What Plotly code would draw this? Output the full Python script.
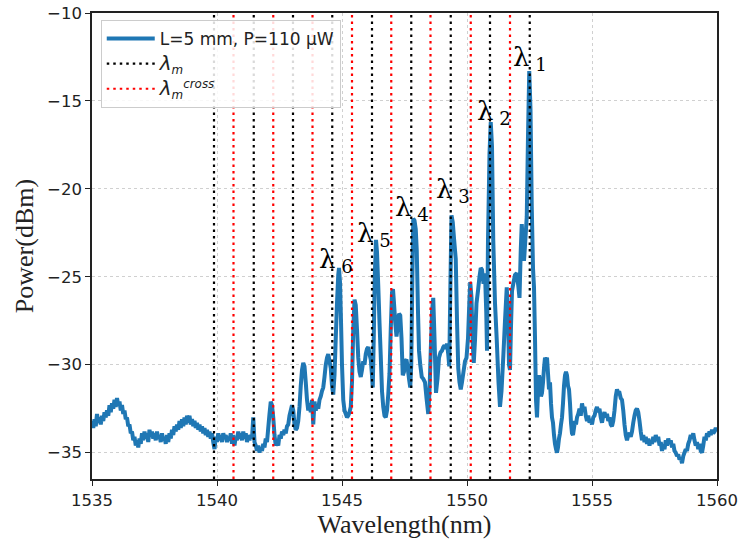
import plotly.graph_objects as go

# Measured optical spectrum (wavelength in nm, power in dBm)
wavelength_nm = [
    1535.00, 1535.05, 1535.10, 1535.15, 1535.20, 1535.25, 1535.30, 1535.35, 1535.40, 1535.45,
    1535.50, 1535.55, 1535.60, 1535.65, 1535.70, 1535.75, 1535.80, 1535.85, 1535.90, 1535.95,
    1536.00, 1536.05, 1536.10, 1536.15, 1536.20, 1536.25, 1536.30, 1536.35, 1536.40, 1536.45,
    1536.50, 1536.55, 1536.60, 1536.65, 1536.70, 1536.75, 1536.80, 1536.85, 1536.90, 1536.95,
    1537.00, 1537.05, 1537.10, 1537.15, 1537.20, 1537.25, 1537.30, 1537.35, 1537.40, 1537.45,
    1537.50, 1537.55, 1537.60, 1537.65, 1537.70, 1537.75, 1537.80, 1537.85, 1537.90, 1537.95,
    1538.00, 1538.05, 1538.10, 1538.15, 1538.20, 1538.25, 1538.30, 1538.35, 1538.40, 1538.45,
    1538.50, 1538.55, 1538.60, 1538.65, 1538.70, 1538.75, 1538.80, 1538.85, 1538.90, 1538.95,
    1539.00, 1539.05, 1539.10, 1539.15, 1539.20, 1539.25, 1539.30, 1539.35, 1539.40, 1539.45,
    1539.50, 1539.55, 1539.60, 1539.65, 1539.70, 1539.75, 1539.80, 1539.85, 1539.90, 1539.95,
    1540.00, 1540.05, 1540.10, 1540.15, 1540.20, 1540.25, 1540.30, 1540.35, 1540.40, 1540.45,
    1540.50, 1540.55, 1540.60, 1540.65, 1540.70, 1540.75, 1540.80, 1540.85, 1540.90, 1540.95,
    1541.00, 1541.05, 1541.10, 1541.15, 1541.20, 1541.25, 1541.30, 1541.35, 1541.40, 1541.45,
    1541.50, 1541.55, 1541.60, 1541.65, 1541.70, 1541.75, 1541.80, 1541.85, 1541.90, 1541.95,
    1542.00, 1542.05, 1542.10, 1542.15, 1542.20, 1542.25, 1542.30, 1542.35, 1542.40, 1542.45,
    1542.50, 1542.55, 1542.60, 1542.65, 1542.70, 1542.75, 1542.80, 1542.85, 1542.90, 1542.95,
    1543.00, 1543.05, 1543.10, 1543.15, 1543.20, 1543.25, 1543.30, 1543.35, 1543.40, 1543.45,
    1543.50, 1543.55, 1543.60, 1543.65, 1543.70, 1543.75, 1543.80, 1543.85, 1543.90, 1543.95,
    1544.00, 1544.05, 1544.10, 1544.15, 1544.20, 1544.25, 1544.30, 1544.35, 1544.40, 1544.45,
    1544.50, 1544.55, 1544.60, 1544.65, 1544.70, 1544.75, 1544.80, 1544.85, 1544.88, 1544.92,
    1544.96, 1545.00, 1545.05, 1545.10, 1545.15, 1545.20, 1545.25, 1545.30, 1545.35, 1545.40,
    1545.45, 1545.50, 1545.55, 1545.60, 1545.65, 1545.70, 1545.75, 1545.80, 1545.85, 1545.90,
    1545.95, 1546.00, 1546.05, 1546.10, 1546.15, 1546.20, 1546.23, 1546.27, 1546.31, 1546.36,
    1546.40, 1546.45, 1546.50, 1546.55, 1546.60, 1546.65, 1546.70, 1546.75, 1546.80, 1546.85,
    1546.90, 1546.95, 1547.00, 1547.04, 1547.08, 1547.13, 1547.18, 1547.23, 1547.28, 1547.33,
    1547.38, 1547.43, 1547.48, 1547.53, 1547.58, 1547.63, 1547.68, 1547.73, 1547.77, 1547.81,
    1547.85, 1547.90, 1547.95, 1547.99, 1548.04, 1548.08, 1548.13, 1548.19, 1548.25, 1548.32,
    1548.38, 1548.45, 1548.50, 1548.55, 1548.60, 1548.65, 1548.70, 1548.76, 1548.82, 1548.88,
    1548.94, 1549.00, 1549.05, 1549.10, 1549.15, 1549.20, 1549.25, 1549.29, 1549.33, 1549.38,
    1549.43, 1549.48, 1549.55, 1549.60, 1549.65, 1549.70, 1549.75, 1549.80, 1549.86, 1549.92,
    1549.98, 1550.04, 1550.09, 1550.13, 1550.18, 1550.22, 1550.27, 1550.32, 1550.38, 1550.44,
    1550.50, 1550.55, 1550.60, 1550.66, 1550.72, 1550.77, 1550.80, 1550.84, 1550.90, 1550.95,
    1551.00, 1551.05, 1551.12, 1551.19, 1551.26, 1551.32, 1551.38, 1551.45, 1551.52, 1551.59,
    1551.64, 1551.68, 1551.72, 1551.76, 1551.80, 1551.85, 1551.92, 1551.99, 1552.05, 1552.10,
    1552.15, 1552.19, 1552.24, 1552.28, 1552.33, 1552.39, 1552.44, 1552.49, 1552.54, 1552.59,
    1552.64, 1552.68, 1552.72, 1552.76, 1552.80, 1552.84, 1552.88, 1552.92, 1552.96, 1553.00,
    1553.04, 1553.08, 1553.12, 1553.16, 1553.20, 1553.24, 1553.28, 1553.32, 1553.36, 1553.40,
    1553.44, 1553.48, 1553.52, 1553.56, 1553.60, 1553.64, 1553.68, 1553.72, 1553.76, 1553.80,
    1553.84, 1553.88, 1553.92, 1553.96, 1554.00, 1554.04, 1554.08, 1554.12, 1554.16, 1554.20,
    1554.24, 1554.28, 1554.32, 1554.36, 1554.40, 1554.45, 1554.50, 1554.55, 1554.60, 1554.65,
    1554.70, 1554.75, 1554.80, 1554.85, 1554.90, 1554.95, 1555.00, 1555.05, 1555.10, 1555.15,
    1555.20, 1555.25, 1555.30, 1555.35, 1555.40, 1555.45, 1555.50, 1555.55, 1555.60, 1555.65,
    1555.70, 1555.75, 1555.80, 1555.85, 1555.90, 1555.95, 1556.00, 1556.05, 1556.10, 1556.15,
    1556.20, 1556.25, 1556.30, 1556.35, 1556.40, 1556.45, 1556.50, 1556.55, 1556.60, 1556.65,
    1556.70, 1556.75, 1556.80, 1556.85, 1556.90, 1556.95, 1557.00, 1557.05, 1557.10, 1557.15,
    1557.20, 1557.25, 1557.30, 1557.35, 1557.40, 1557.45, 1557.50, 1557.55, 1557.60, 1557.65,
    1557.70, 1557.75, 1557.80, 1557.85, 1557.90, 1557.95, 1558.00, 1558.05, 1558.10, 1558.15,
    1558.20, 1558.25, 1558.30, 1558.35, 1558.40, 1558.45, 1558.50, 1558.55, 1558.60, 1558.65,
    1558.70, 1558.75, 1558.80, 1558.85, 1558.90, 1558.95, 1559.00, 1559.05, 1559.10, 1559.15,
    1559.20, 1559.25, 1559.30, 1559.35, 1559.40, 1559.45, 1559.50, 1559.55, 1559.60, 1559.65,
    1559.70, 1559.75, 1559.80, 1559.85, 1559.90, 1559.95, 1560.00,
]

power_dbm = [
    -33.2, -33.6, -33.1, -33.5, -32.8, -33.3, -33.0, -33.4, -32.9, -33.2,
    -32.7, -33.0, -32.6, -32.9, -32.3, -32.7, -32.2, -32.5, -32.0, -32.4,
    -31.9, -32.3, -32.1, -32.6, -32.3, -32.8, -32.6, -33.1, -33.0, -33.5,
    -33.4, -33.9, -33.8, -34.3, -34.1, -34.6, -34.3, -34.7, -34.2, -34.5,
    -33.9, -34.3, -33.8, -34.2, -33.9, -34.4, -33.7, -34.1, -33.8, -34.2,
    -33.9, -34.3, -33.8, -34.2, -34.0, -34.4, -33.9, -34.3, -34.1, -34.5,
    -34.0, -34.4, -33.9, -34.2, -33.7, -34.0, -33.5, -33.8, -33.4, -33.7,
    -33.2, -33.6, -33.1, -33.5, -33.0, -33.4, -32.9, -33.3, -32.9, -33.4,
    -33.1, -33.5, -33.2, -33.6, -33.3, -33.7, -33.4, -33.8, -33.5, -33.9,
    -33.6, -34.0, -33.7, -34.1, -33.8, -34.2, -33.9, -34.4, -34.8, -34.1,
    -34.4, -33.9, -34.3, -34.0, -34.4, -33.9, -34.2, -34.0, -34.4, -34.1,
    -34.3, -33.9, -34.5, -34.0, -34.6, -34.1, -34.3, -33.8, -34.2, -33.9,
    -34.3, -33.8, -34.2, -33.9, -34.4, -34.0, -34.3, -34.0, -34.2, -33.0,
    -34.4, -34.6, -34.9, -34.6, -35.0, -34.7, -34.9, -34.5, -34.7, -34.2,
    -34.4, -33.6, -32.8, -32.1, -32.3, -33.0, -34.0, -34.6, -34.4, -34.6,
    -34.0, -34.2, -33.8, -34.0, -33.7, -33.9, -33.5, -33.4, -32.9, -32.6,
    -32.3, -32.6, -33.4, -33.7, -33.6, -33.2, -32.4, -31.2, -30.3, -29.9,
    -30.1, -31.0, -32.0, -32.6, -32.2, -32.7, -32.0, -33.4, -32.1, -32.6,
    -32.3, -32.5, -32.0, -31.8, -31.5, -31.3, -30.7, -30.0, -29.6, -29.4,
    -29.8, -30.2, -31.2, -31.7, -30.6, -28.5, -26.5, -24.9, -24.5, -25.3,
    -27.5, -30.0, -32.0, -32.6, -32.8, -33.0, -32.9, -32.7, -32.4, -31.0,
    -28.0, -26.3, -26.6, -28.0, -29.6, -30.4, -30.7, -30.3, -29.8, -30.0,
    -29.4, -29.1, -29.0, -29.4, -29.7, -30.6, -31.3, -28.5, -25.0, -22.9,
    -23.6, -25.5, -27.6, -29.5, -31.5, -32.4, -32.9, -33.0, -32.6, -31.7,
    -30.5, -28.0, -25.9, -25.7, -26.5, -27.6, -28.4, -27.8, -27.1, -27.2,
    -28.5, -30.6, -30.4, -29.8, -29.7, -30.2, -30.8, -31.3, -30.0, -25.5,
    -21.7, -21.8, -22.3, -23.5, -27.0, -29.2, -30.0, -30.7, -30.8, -31.0,
    -31.9, -32.8, -31.5, -29.2, -27.0, -26.2, -28.5, -31.6, -30.8, -29.6,
    -29.3, -29.2, -29.0, -28.9, -29.1, -28.8, -29.4, -30.1, -26.0, -21.5,
    -21.9, -22.8, -24.0, -27.5, -30.2, -31.0, -31.4, -31.0, -30.4, -29.8,
    -29.6, -28.5, -26.6, -25.3, -26.2, -28.5, -29.9, -28.6, -26.5, -25.8,
    -25.0, -24.5, -24.6, -25.4, -24.8, -27.0, -29.2, -22.9, -18.0, -16.2,
    -17.6, -22.9, -26.5, -28.6, -31.0, -32.4, -31.5, -29.6, -27.5, -25.6,
    -27.2, -30.0, -30.3, -27.8, -25.8, -25.4, -24.9, -24.8, -25.5, -26.2,
    -23.5, -22.0, -23.2, -24.1, -23.0, -21.6, -17.0, -13.3, -15.5, -21.0,
    -24.5, -25.6, -28.5, -32.0, -33.0, -31.5, -30.6, -30.9, -31.8, -31.6,
    -31.0, -30.2, -29.6, -29.8, -29.6, -30.5, -31.4, -31.0, -32.2, -33.0,
    -33.3, -34.0, -34.5, -34.8, -35.0, -34.7, -34.2, -33.9, -33.4, -33.0,
    -32.2, -31.2, -30.6, -30.4, -30.6, -31.2, -31.4, -32.2, -33.3, -33.9,
    -34.0, -33.6, -33.2, -33.4, -33.0, -32.8, -32.5, -32.9, -32.2, -32.6,
    -32.4, -32.9, -33.2, -32.9, -33.3, -33.1, -33.4, -33.0, -32.9, -32.6,
    -32.4, -32.7, -32.5, -33.0, -33.3, -32.9, -32.7, -33.0, -32.8, -33.2,
    -33.0, -33.4, -33.5, -33.2, -32.6, -31.8, -31.4, -31.6, -31.6, -31.9,
    -32.0, -32.6, -33.4, -34.0, -34.3, -34.0, -33.9, -34.1, -33.8, -33.3,
    -32.9, -32.6, -32.5, -32.7, -33.2, -33.8, -34.3, -34.0, -34.4, -34.1,
    -34.5, -34.2, -34.6, -34.3, -34.5, -34.1, -34.4, -34.0, -34.3, -34.1,
    -34.6, -34.4, -34.9, -34.6, -34.8, -34.3, -34.6, -34.2, -34.5, -34.3,
    -34.7, -34.5, -34.9, -35.0, -35.2, -35.1, -35.4, -35.3, -35.6, -35.2,
    -35.0, -34.8, -34.9, -34.5, -34.3, -34.0, -34.2, -33.9, -34.3, -34.6,
    -34.4, -34.8, -34.5, -34.9, -35.0, -34.6, -34.1, -34.3, -33.9, -34.1,
    -33.8, -34.0, -33.7, -33.9, -33.8, -33.6, -33.8,
]

# Mode wavelengths and cross-mode wavelengths (nm)
lambda_m = [1539.88, 1541.47, 1543.04, 1544.61, 1546.20, 1547.77, 1549.35, 1550.92, 1552.51]
lambda_cross = [1540.66, 1542.25, 1543.82, 1545.40, 1546.97, 1548.54, 1550.15, 1551.72]

# Peak labels placed just above each mode peak
peak_names = ["1", "2", "3", "4", "5", "6"]
peak_label_x = [1552.52, 1551.08, 1549.44, 1547.80, 1546.28, 1544.76]
peak_label_y = [-12.6, -15.65, -20.1, -21.1, -22.6, -24.1]

Y_RANGE = [-36.5, -10]
X_TICKS = [1535, 1540, 1545, 1550, 1555, 1560]
Y_TICKS = [-35, -30, -25, -20, -15, -10]


def vlines(xs):
    px, py = [], []
    for v in xs:
        px += [v, v, None]
        py += [Y_RANGE[0], Y_RANGE[1], None]
    return px, py


fig = go.Figure()

fig.add_trace(go.Scatter(
    x=wavelength_nm, y=power_dbm, mode="lines",
    name="L=5 mm, P=110 μW",
    line=dict(color="#1f77b4", width=4, simplify=False),
))

bx, by = vlines(lambda_m)
fig.add_trace(go.Scatter(
    x=bx, y=by, mode="lines",
    name="<span style='font-size:20px'><i>λ</i></span><sub><i>m</i></sub>",
    line=dict(color="black", width=2.2, dash="2.5px,4px"),
))

rx, ry = vlines(lambda_cross)
fig.add_trace(go.Scatter(
    x=rx, y=ry, mode="lines",
    name="<span style='font-size:20px'><i>λ</i></span><sub><i>m</i></sub><sup><i>cross</i></sup>",
    line=dict(color="red", width=2.2, dash="2.5px,4px"),
))

for name, lx, ly in zip(peak_names, peak_label_x, peak_label_y):
    fig.add_annotation(
        x=lx, y=ly, text="λ<sub> " + name + "</sub>", showarrow=False,
        font=dict(family="DejaVu Serif", size=26, color="black"),
        xanchor="center", yanchor="middle",
    )

axis_common = dict(
    showline=True, linecolor="#222222", linewidth=1.5, mirror=True,
    ticks="outside", ticklen=5, tickwidth=1.2, tickcolor="#222222",
    showgrid=True, gridcolor="#d0d0d0", griddash="dot", gridwidth=1,
    zeroline=False, automargin=False,
    tickfont=dict(family="DejaVu Sans", size=16.5, color="#222222"),
)

fig.update_xaxes(
    range=[1535, 1560], tickvals=X_TICKS,
    title=dict(text="Wavelength(nm)", font=dict(family="Liberation Serif", size=26, color="#222222"), standoff=4),
    **axis_common,
)
fig.update_yaxes(
    range=Y_RANGE, tickvals=Y_TICKS,
    title=dict(text="Power(dBm)", font=dict(family="Liberation Serif", size=26, color="#222222"), standoff=6),
    **axis_common,
)

fig.update_layout(
    width=741, height=542,
    margin=dict(l=92, r=24, t=13, b=63),
    plot_bgcolor="white", paper_bgcolor="white",
    showlegend=True,
    legend=dict(
        x=0.014, y=0.985, xanchor="left", yanchor="top",
        bgcolor="rgba(255,255,255,0.85)", bordercolor="#cccccc", borderwidth=1,
        font=dict(family="DejaVu Sans", size=17, color="#222222"),
        tracegroupgap=2, itemwidth=48,
    ),
)

fig.write_html("out.html")
